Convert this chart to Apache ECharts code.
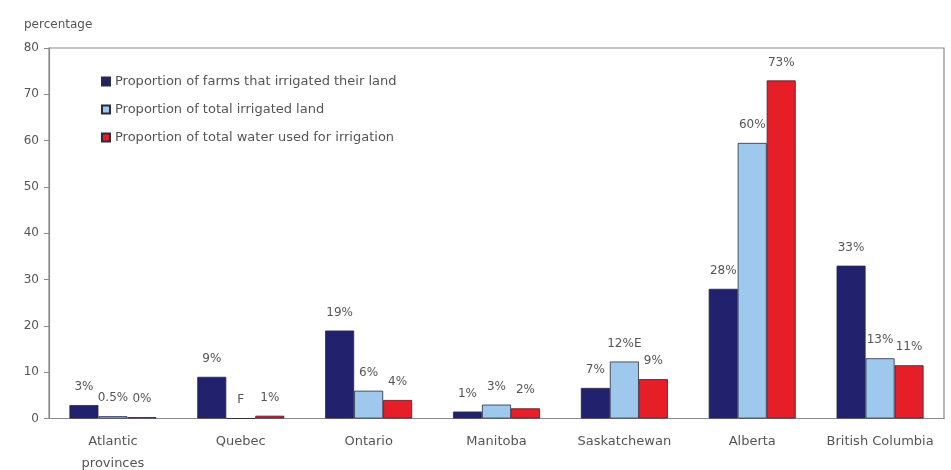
<!DOCTYPE html>
<html><head><meta charset="utf-8">
<script src="https://cdn.jsdelivr.net/npm/echarts@6/dist/echarts.min.js"></script>
<style>html,body{margin:0;padding:0;background:#fff}#c{width:951px;height:470px}</style>
</head><body><div id="c"></div>
<script>
const categories = ["Atlantic\nprovinces","Quebec","Ontario","Manitoba","Saskatchewan","Alberta","British Columbia"];
const seriesNames = ["Proportion of farms that irrigated their land","Proportion of total irrigated land","Proportion of total water used for irrigation"];
const farms = [2.9, 9, 19, 1.5, 6.6, 28, 33];
const land = [0.5, null, 6, 3, 12.3, 59.5, 13];
const water = [0.3, 0.6, 4, 2.2, 8.5, 73, 11.5];
const farmsLabels = ["3%","9%","19%","1%","7%","28%","33%"];
const landLabels = ["0.5%","F","6%","3%","12%E","60%","13%"];
const waterLabels = ["0%","1%","4%","2%","9%","73%","11%"];
const yTicks = [0,10,20,30,40,50,60,70,80];

const colors = ["#22216e","#9fc9ec","#e61e27"];
const font = "DejaVu Sans, Arial, sans-serif";

function mkSeries(i, vals, labels){
  return {
    name: seriesNames[i], type:'bar', barWidth: 29, barGap: '0%',
    data: vals.map(v => v === null ? 0 : v),
    itemStyle:{color:colors[i], borderColor:'#2a2a40', borderWidth:0.8},
    label:{show:true, position:'top', distance:12, color:'#555', fontSize:12, fontFamily:font,
      formatter: p => labels[p.dataIndex]}
  };
}

const chart = echarts.init(document.getElementById('c'), null, {renderer:'canvas'});
chart.setOption({
  animation:false,
  backgroundColor:'#fff',
  title:{text:'percentage', left:19, top:14, textStyle:{fontSize:12, fontWeight:'normal', color:'#555', fontFamily:font}},
  legend:{orient:'vertical', left:96, top:70, itemWidth:8, itemHeight:8, itemGap:15,
    textStyle:{fontSize:13, color:'#555', fontFamily:font}, icon:'rect', data:seriesNames},
  grid:{left:49, right:7, top:48, bottom:51.5, outerBoundsMode:'none', containLabel:false,
    show:true, borderColor:'#8a8a8a', borderWidth:1.2, backgroundColor:'transparent'},
  xAxis:{type:'category', data:categories,
    axisLine:{lineStyle:{color:'#8a8a8a', width:1.2}}, axisTick:{show:false},
    axisLabel:{color:'#555', fontSize:13, fontFamily:font, margin:12, lineHeight:22, interval:0}},
  yAxis:{type:'value', min:yTicks[0], max:yTicks[yTicks.length-1], interval:10,
    axisLine:{show:true, lineStyle:{color:'#8a8a8a', width:1.2}},
    axisTick:{show:true, length:5, lineStyle:{color:'#8a8a8a'}},
    splitLine:{show:false},
    axisLabel:{color:'#555', fontSize:12, fontFamily:font, margin:10}},
  series:[mkSeries(0,farms,farmsLabels), mkSeries(1,land,landLabels), mkSeries(2,water,waterLabels)]
});
</script></body></html>
